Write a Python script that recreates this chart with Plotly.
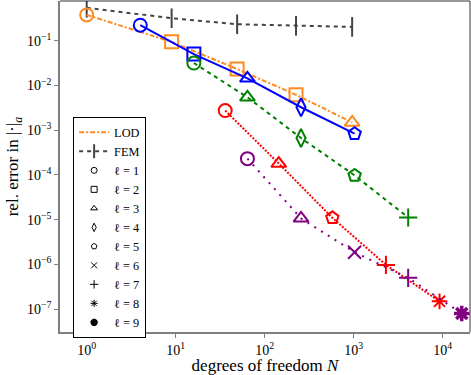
import plotly.graph_objects as go

# degrees of freedom / relative errors
dof_lod = [1, 9, 49, 225, 961]
err_lod = [0.38, 0.095, 0.0234, 0.0062, 0.0015]
sym_lod = ["circle-open", "square-open", "square-open", "square-open", "triangle-up-open"]

dof_fem = [1, 9, 49, 225, 961]
err_fem = [0.55, 0.32, 0.235, 0.216, 0.205]

dof_blue = [4, 16, 64, 256, 1024]
err_blue = [0.224, 0.0506, 0.0145, 0.00327, 0.00084]
sym_blue = ["circle-open", "square-open", "triangle-up-open", "diamond-tall-open", "pentagon-open"]

dof_green = [16, 64, 256, 1024, 4096]
err_green = [0.0319, 0.00546, 0.00067, 9.8e-5, 1.12e-5]
sym_green = ["circle-open", "triangle-up-open", "diamond-tall-open", "pentagon-open", "cross-thin-open"]

dof_red = [36, 144, 576, 2304, 9216]
err_red = [0.00276, 1.8e-4, 1.1e-5, 9.75e-7, 1.49e-7]
sym_red = ["circle-open", "triangle-up-open", "pentagon-open", "cross-thin-open", "asterisk-open"]

dof_purple = [64, 256, 1024, 4096, 16384]
err_purple = [2.32e-4, 1.07e-5, 1.87e-6, 5.0e-7, 8.0e-8]
sym_purple = ["circle-open", "triangle-up-open", "x-thin-open", "cross-thin-open", "asterisk-open"]

ell_labels = ["ℓ = %d" % i for i in range(1, 10)]
ell_symbols = ["circle-open", "square-open", "triangle-up-open", "diamond-tall-open", "pentagon-open",
               "x-thin-open", "cross-thin-open", "asterisk-open", "asterisk-open"]

xtick_vals = [1, 10, 100, 1000, 10000]
xtick_text = ["10<sup>0</sup>", "10<sup>1</sup>", "10<sup>2</sup>", "10<sup>3</sup>", "10<sup>4</sup>"]
ytick_vals = [1e-1, 1e-2, 1e-3, 1e-4, 1e-5, 1e-6, 1e-7]
ytick_text = ["10<sup>−%d</sup>" % i for i in range(1, 8)]

ORANGE = "#ff8a1f"
GRAY = "#444444"
FONT = "Liberation Serif"
MS = 13

fig = go.Figure()

fig.add_trace(go.Scatter(x=dof_fem, y=err_fem, mode="lines+markers", showlegend=False,
                         line=dict(color=GRAY, width=2, dash="4px,4px"),
                         marker=dict(symbol="line-ns-open", size=14, line=dict(width=2, color=GRAY))))
fig.add_trace(go.Scatter(x=dof_lod, y=err_lod, mode="lines+markers", showlegend=False,
                         line=dict(color=ORANGE, width=2, dash="5px,2px,2px,2px"),
                         marker=dict(symbol=sym_lod, size=MS, line=dict(width=2, color=ORANGE))))
fig.add_trace(go.Scatter(x=dof_blue, y=err_blue, mode="lines+markers", showlegend=False,
                         line=dict(color="blue", width=2),
                         marker=dict(symbol=sym_blue, size=MS, line=dict(width=2, color="blue"))))
fig.add_trace(go.Scatter(x=dof_green, y=err_green, mode="lines+markers", showlegend=False,
                         line=dict(color="green", width=2, dash="4px,4px"),
                         marker=dict(symbol=sym_green, size=MS, line=dict(width=2, color="green"))))
fig.add_trace(go.Scatter(x=dof_red, y=err_red, mode="lines+markers", showlegend=False,
                         line=dict(color="red", width=2, dash="2px,1.5px"),
                         marker=dict(symbol=sym_red, size=MS, line=dict(width=2, color="red"))))
fig.add_trace(go.Scatter(x=dof_purple, y=err_purple, mode="lines+markers", showlegend=False,
                         line=dict(color="purple", width=2, dash="2px,6px"),
                         marker=dict(symbol=sym_purple, size=MS, line=dict(width=[2, 2, 2, 2, 3.5], color="purple"))))

# legend entries
fig.add_trace(go.Scatter(x=[None], y=[None], mode="lines", name="LOD",
                         line=dict(color=ORANGE, width=2, dash="5px,2px,2px,2px")))
fig.add_trace(go.Scatter(x=[None], y=[None], mode="lines+markers", name="FEM",
                         line=dict(color=GRAY, width=2, dash="4px,4px"),
                         marker=dict(symbol="line-ns-open", size=10, line=dict(width=2, color=GRAY))))
for lab, sym in zip(ell_labels, ell_symbols):
    fig.add_trace(go.Scatter(x=[None], y=[None], mode="markers", name=lab,
                             marker=dict(symbol=sym, size=6, color="black",
                                         line=dict(width=2.5 if lab.endswith("9") else 1, color="black"))))

fig.update_layout(
    width=471, height=375,
    margin=dict(l=60, r=1, t=1, b=43),
    plot_bgcolor="white", paper_bgcolor="white",
    font=dict(family=FONT, size=14, color="black"),
    legend=dict(x=0.032, y=0.65, xanchor="left", yanchor="top",
                bordercolor="black", borderwidth=1, bgcolor="white",
                font=dict(family=FONT, size=12.3), tracegroupgap=0),
    xaxis=dict(type="log", range=[-0.30, 4.307], tickvals=xtick_vals, ticktext=xtick_text,
               showgrid=False, zeroline=False, showline=True, linecolor="#7f7f7f", linewidth=1.5,
               ticks="outside", ticklen=4, tickcolor="#7f7f7f", automargin=False,
               tickfont=dict(size=14),
               title=dict(text="degrees of freedom <i>N</i>", standoff=4)),
    yaxis=dict(type="log", range=[-7.512, -0.109], tickvals=ytick_vals, ticktext=ytick_text,
               showgrid=False, zeroline=False, showline=True, linecolor="#7f7f7f", linewidth=1.5,
               ticks="outside", ticklen=4, tickcolor="#7f7f7f", automargin=False,
               tickfont=dict(size=14),
               title=dict(text="rel. error in |·|<sub><i>a</i></sub>", standoff=4)),
)

# top and right frame lines
fig.add_shape(type="line", xref="paper", yref="paper", x0=0, x1=1, y0=1, y1=1,
              line=dict(color="#333333", width=1))
fig.add_shape(type="line", xref="paper", yref="paper", x0=1, x1=1, y0=0, y1=1,
              line=dict(color="#333333", width=1))

# drop the default page margin so the figure sits at the window's corner
fig.write_html("out.html", config={"displayModeBar": False},
               post_script="document.body.style.margin='0px';")
